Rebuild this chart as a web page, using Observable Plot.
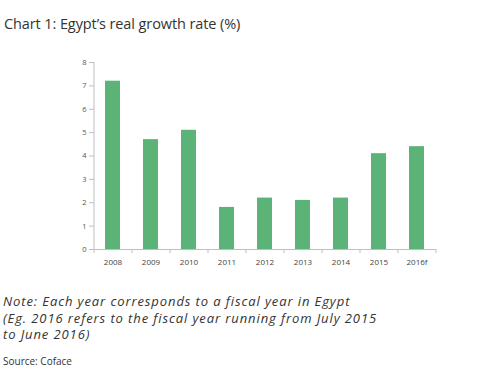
<!DOCTYPE html>
<html>
<head>
<meta charset="utf-8">
<script src="https://cdn.jsdelivr.net/npm/d3@7"></script>
<script src="https://cdn.jsdelivr.net/npm/@observablehq/plot@0.6"></script>
<style>
  html, body { margin: 0; padding: 0; background: #fff; width: 477px; height: 376px; overflow: hidden; }
  body { position: relative; font-family: "Open Sans", "Lato", sans-serif; color: #2b2b2b; }
  #title { position: absolute; left: 4px; top: 14px; font-size: 14.5px; letter-spacing: -0.1px; color: #333; white-space: nowrap; }
  #chart { position: absolute; left: 0; top: 45px; }
  .note { position: absolute; left: 3px; font-family: "Open Sans", sans-serif; font-size: 13px; font-style: italic; line-height: 15px; letter-spacing: 0.9px; color: #333; white-space: nowrap; }
  #source { position: absolute; left: 3px; top: 355px; font-size: 10px; line-height: 12px; color: #333; white-space: nowrap; }
</style>
</head>
<body>
<div id="title">Chart 1: Egypt’s real growth rate (%)</div>
<div id="chart"></div>
<div class="note" style="top:294px">Note: Each year corresponds to a fiscal year in Egypt</div>
<div class="note" style="top:310.5px">(Eg. 2016 refers to the fiscal year running from July 2015</div>
<div class="note" style="top:327px">to June 2016)</div>
<div id="source">Source: Coface</div>
<script>
const years = ["2008", "2009", "2010", "2011", "2012", "2013", "2014", "2015", "2016f"];
const growth = [7.2, 4.7, 5.1, 1.8, 2.2, 2.1, 2.2, 4.1, 4.4];
const yTicks = [0, 1, 2, 3, 4, 5, 6, 7, 8];

const data = years.map((y, i) => ({year: y, value: growth[i]}));

const width = 477, height = 230;
const marginLeft = 94, marginRight = 41, marginTop = 17, marginBottom = 26;
const step = (width - marginLeft - marginRight) / years.length;
const axisColor = "#bfbfbf";

const chart = Plot.plot({
  width, height, marginLeft, marginRight, marginTop, marginBottom,
  style: {fontFamily: "'Open Sans', sans-serif", background: "#fff"},
  x: {domain: years, paddingInner: 0.6, paddingOuter: 0.3, label: null},
  y: {domain: [0, 8], label: null},
  marks: [
    Plot.barY(data, {x: "year", y: "value", fill: "#5cb377"}),
    Plot.ruleY([0], {stroke: axisColor}),
    Plot.ruleX(years, {x: d => d, dx: -step / 2, y1: 0, y2: 0, insetBottom: -4, stroke: axisColor}),
    Plot.ruleX([years[years.length - 1]], {x: d => d, dx: step / 2, y1: 0, y2: 0, insetBottom: -4, stroke: axisColor}),
    Plot.ruleX([years[0]], {x: d => d, dx: -step / 2, y1: 0, y2: 8, stroke: axisColor}),
    Plot.axisY({ticks: yTicks, tickSize: 5, tickPadding: 3, stroke: axisColor, fill: "#555", fontSize: 7.5, label: null}),
    Plot.axisX({tickSize: 0, tickPadding: 10, fill: "#444", fontSize: 8, label: null})
  ]
});
document.getElementById("chart").appendChild(chart);
</script>
</body>
</html>
